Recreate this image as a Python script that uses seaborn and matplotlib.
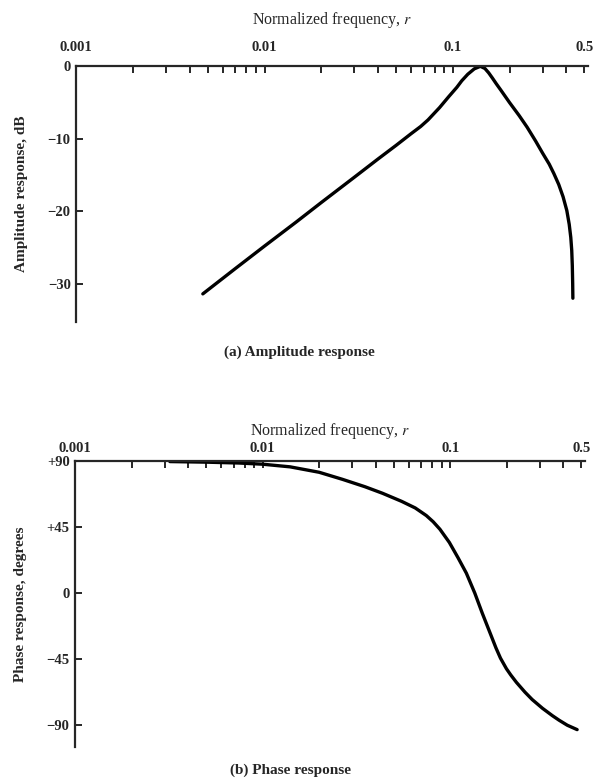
import numpy as np
import pandas as pd
import matplotlib
matplotlib.use('Agg')
import matplotlib.pyplot as plt
import seaborn as sns

# values
amp_freq = [0.0047, 0.007, 0.01, 0.0147, 0.02, 0.03, 0.04, 0.05, 0.06, 0.0675,
            0.0738, 0.085, 0.095, 0.105, 0.1115, 0.12, 0.13, 0.14, 0.148, 0.155,
            0.162, 0.17, 0.18, 0.2, 0.225, 0.248, 0.275, 0.3, 0.325, 0.344, 0.365,
            0.385, 0.403, 0.415, 0.423, 0.428, 0.431, 0.433, 0.434]
amp_db = [-31.4, -27.9, -24.8, -21.5, -18.8, -15.3, -12.8, -10.9, -9.3, -8.3,
          -7.4, -5.7, -4.2, -2.9, -2.0, -1.1, -0.35, 0.0, -0.3, -0.9,
          -1.6, -2.4, -3.3, -5.0, -6.8, -8.4, -10.3, -12.0, -13.5, -14.8, -16.3,
          -18.0, -19.9, -21.8, -23.6, -25.4, -27.5, -30.0, -32.0]

phase_freq = [0.0032, 0.005, 0.0075, 0.01, 0.014, 0.02, 0.0266, 0.035, 0.0435,
              0.055, 0.065, 0.0745, 0.081, 0.088, 0.0988, 0.11, 0.1217, 0.135,
              0.148, 0.165, 0.175, 0.185, 0.199, 0.21, 0.225, 0.25, 0.273, 0.31,
              0.35, 0.38, 0.42, 0.474]
phase_deg = [89.6, 89.2, 88.6, 87.8, 86.0, 82.3, 77.5, 72.5, 68.0,
             62.5, 58.0, 52.8, 48.6, 43.5, 34.5, 24.0, 13.6, 0.0,
             -13.7, -29.0, -37.3, -44.3, -51.5, -55.8, -60.8, -67.5, -72.5, -78.5,
             -83.5, -86.6, -90.0, -93.0]

x_major = [0.001, 0.01, 0.1, 0.5]
x_major_labels = ['0.001', '0.01', '0.1', '0.5']
amp_ticks = [0, -10, -20, -30]
amp_tick_labels = ['0', '\u221210', '\u221220', '\u221230']
phase_ticks = [90, 45, 0, -45, -90]
phase_tick_labels = ['+90', '+45', '0', '\u221245', '\u221290']

sns.set_style('ticks')
plt.rcParams['font.family'] = ['Liberation Serif', 'DejaVu Serif']
plt.rcParams['mathtext.fontset'] = 'stix'

fig = plt.figure(figsize=(5.96, 7.8), dpi=100)

ax1 = fig.add_axes([0.128, 0.587, 0.858, 0.328])
ax2 = fig.add_axes([0.126, 0.042, 0.855, 0.367])

amp = pd.DataFrame({'f': amp_freq, 'db': amp_db})
ph = pd.DataFrame({'f': phase_freq, 'deg': phase_deg})

sns.lineplot(data=amp, x='f', y='db', ax=ax1, color='black', linewidth=2.4, sort=False)
sns.lineplot(data=ph, x='f', y='deg', ax=ax2, color='black', linewidth=2.4, sort=False)

minor = [m * d for d in [0.001, 0.01, 0.1] for m in range(2, 10) if m * d < 0.5]


def style_axis(ax, yticks, ylabels, ylim, ylabel, xpad, xlabelpad):
    ax.set_xscale('log')
    ax.set_xlim(0.001, 0.52)
    ax.set_ylim(*ylim)
    ax.xaxis.tick_top()
    ax.xaxis.set_label_position('top')
    ax.set_xticks(x_major)
    ax.set_xticklabels(x_major_labels, fontsize=10.5, fontweight='bold')
    ax.set_xticks(minor, minor=True)
    ax.set_xticklabels([], minor=True)
    ax.set_yticks(yticks)
    ax.set_yticklabels(ylabels, fontsize=10.5, fontweight='bold')
    ax.tick_params(axis='both', which='both', direction='in', length=5, width=1.4, pad=4)
    ax.tick_params(axis='x', which='both', pad=xpad)
    for s in ['right', 'bottom']:
        ax.spines[s].set_visible(False)
    for s in ['left', 'top']:
        ax.spines[s].set_linewidth(1.6)
    ax.set_xlabel('Normalized frequency, $r$', fontsize=11.5, labelpad=xlabelpad)
    ax.set_ylabel(ylabel, fontsize=11, fontweight='bold', labelpad=14)


style_axis(ax1, amp_ticks, amp_tick_labels, (-35.3, 0), 'Amplitude response, dB', 9, 12)
style_axis(ax2, phase_ticks, phase_tick_labels, (-105, 90), 'Phase response, degrees', 4, 5)

fig.text(0.503, 1 - 352 / 780, '(a) Amplitude response', ha='center', va='center',
         fontsize=11, fontweight='bold')
fig.text(0.487, 1 - 770 / 780, '(b) Phase response', ha='center', va='center',
         fontsize=11, fontweight='bold')

fig.savefig('out.png', dpi=100)
